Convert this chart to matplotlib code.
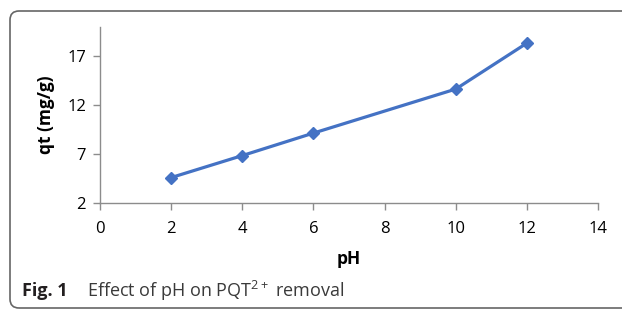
import matplotlib
matplotlib.use('Agg')
import matplotlib.pyplot as plt
from matplotlib.patches import FancyBboxPatch
from matplotlib.transforms import IdentityTransform

# data
ph = [2, 4, 6, 10, 12]
qt = [4.6, 6.85, 9.15, 13.65, 18.35]
x_ticks = [0, 2, 4, 6, 8, 10, 12, 14]
y_ticks = [2, 7, 12, 17]

plt.rcParams['font.family'] = ['Open Sans', 'DejaVu Sans']
plt.rcParams['mathtext.fontset'] = 'custom'
plt.rcParams['mathtext.rm'] = 'Open Sans'

fig = plt.figure(figsize=(6.22, 3.10), dpi=100)
ax = fig.add_axes([100/622, 1 - 203/310, 498/622, 176/310])

ax.plot(ph, qt, color='#4472C4', linewidth=2.3, marker='D', markersize=6.5,
        markerfacecolor='#4472C4', markeredgecolor='#4472C4')

ax.set_xlim(0, 14)
ax.set_ylim(2, 20)
ax.set_xticks(x_ticks)
ax.set_yticks(y_ticks)

for s in ['top', 'right']:
    ax.spines[s].set_visible(False)
for s in ['left', 'bottom']:
    ax.spines[s].set_color('#8c8c8c')
    ax.spines[s].set_linewidth(1.0)
ax.tick_params(axis='both', colors='#8c8c8c', labelcolor='black', length=5,
               width=1.0, labelsize=12, direction='out')
ax.tick_params(axis='x', pad=8)
ax.tick_params(axis='y', pad=5)

ax.set_xlabel('pH', fontsize=12.5, fontweight='bold', labelpad=9)
ax.set_ylabel('qt (mg/g)', fontsize=12.5, fontweight='bold', labelpad=9)

# rounded frame round the figure panel
frame = FancyBboxPatch((10, 2), 640, 297, boxstyle='round,pad=0,rounding_size=9',
                       transform=IdentityTransform(), facecolor='none',
                       edgecolor='#666666', linewidth=1.2, clip_on=False)
fig.add_artist(frame)

fig.text(22/622, 1 - 291/310, 'Fig. 1', fontsize=13, fontweight='bold',
         color='#231f20', va='center', ha='left')
fig.text(87/622, 1 - 291/310, r'Effect of pH on PQT$^{\mathrm{2+}}$ removal', fontsize=13,
         color='#3a3a3a', va='center', ha='left')

fig.savefig('out.png', dpi=100)
